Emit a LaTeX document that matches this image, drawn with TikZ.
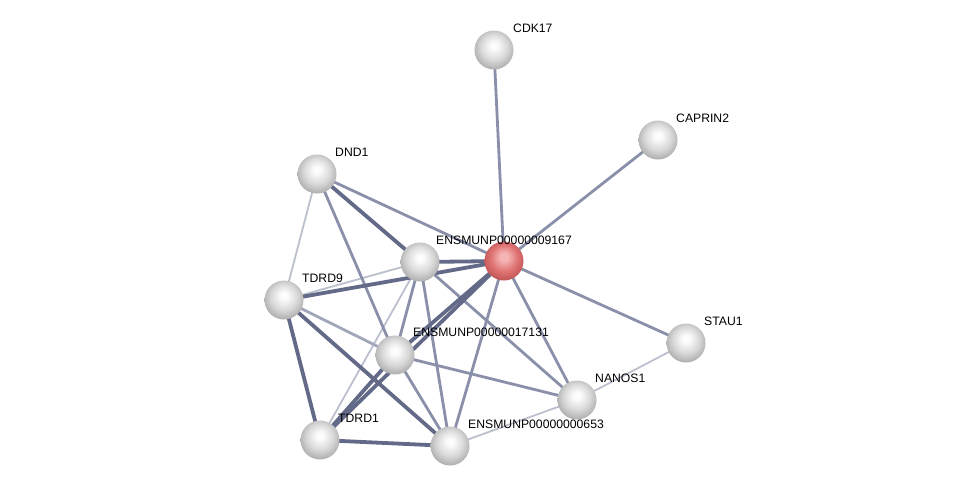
\documentclass[tikz,border=0pt]{standalone}
\usepackage{fontspec}
\setmainfont{Liberation Sans}
\definecolor{cthick}{HTML}{636A88}
\definecolor{cmed}{HTML}{8A90AA}
\definecolor{clight}{HTML}{BCC0CE}
\definecolor{gb1}{HTML}{FAFAFA}
\definecolor{gb2}{HTML}{D8D8D8}
\definecolor{gb3}{HTML}{B0B0B0}
\definecolor{gb4}{HTML}{8C8C8C}
\definecolor{rb1}{HTML}{F4B4B4}
\definecolor{rb2}{HTML}{E07474}
\definecolor{rb3}{HTML}{C45858}
\definecolor{rb4}{HTML}{9E4040}
\pgfdeclareradialshading{grayball}{\pgfpoint{0bp}{6bp}}{color(0bp)=(white); color(5bp)=(gb1); color(17bp)=(gb2); color(27bp)=(gb3); color(31bp)=(gb4); color(50bp)=(gb4)}
\pgfdeclareradialshading{redball}{\pgfpoint{0bp}{6bp}}{color(0bp)=(rb1); color(5bp)=(rb1); color(17bp)=(rb2); color(27bp)=(rb3); color(31bp)=(rb4); color(50bp)=(rb4)}
\begin{document}
\begin{tikzpicture}[x=1pt,y=-1pt,
  ballnode/.style={circle, minimum size=39pt, inner sep=0pt, shading=grayball},
  querynode/.style={ballnode, shading=redball},
  lbl/.style={font=\fontsize{12.2}{14}\selectfont, anchor=west, inner sep=0pt},
  ethick/.style={line width=3.8pt, draw=cthick},
  emed/.style={line width=2.8pt, draw=cmed},
  elight/.style={line width=1.8pt, draw=clight}]
\useasboundingbox (0,0) rectangle (975,491);
% node coordinates
\coordinate (pR) at (504,261);
\coordinate (pU) at (420,262);
\coordinate (pCDK) at (494,50);
\coordinate (pCAP) at (658,140);
\coordinate (pDND) at (317,174);
\coordinate (pT9) at (284,300);
\coordinate (pN17) at (395,355);
\coordinate (pSTAU) at (686,343);
\coordinate (pNAN) at (577,400);
\coordinate (pT1) at (320,440);
\coordinate (pN653) at (450,446);
% edges
\draw[elight] (pDND) -- (pT9);
\draw[elight] (pT9) -- (pU);
\draw[elight] (pU) -- (pT1);
\draw[elight] (pN653) -- (pNAN);
\draw[elight] (pNAN) -- (pSTAU);
\draw[emed] (pCDK) -- (pR);
\draw[emed] (pCAP) -- (pR);
\draw[emed] (pDND) -- (pR);
\draw[emed] (pDND) -- (pN17);
\draw[emed] (pU) -- (pN17);
\draw[emed] (pU) -- (pN653);
\draw[emed] (pU) -- (pNAN);
\draw[emed] (pR) -- (pN653);
\draw[emed] (pR) -- (pNAN);
\draw[emed] (pR) -- (pSTAU);
\draw[emed] (pN17) -- (pNAN);
\draw[emed] (pN17) -- (pN653);
\draw[emed, draw=cmed!80!white] (pT9) -- (pN17);
\draw[ethick] (pDND) -- (pU);
\draw[ethick] (pU) -- (pR);
\draw[ethick] (pT9) -- (pR);
\draw[ethick] (pR) -- (pN17);
\draw[ethick] (pR) -- (pT1);
\draw[ethick] (pN17) -- (pT1);
\draw[ethick] (pT9) -- (pT1);
\draw[ethick] (pT9) -- (pN653);
\draw[ethick] (pT1) -- (pN653);
% nodes
\node[querynode] (R) at (pR) {};
\node[ballnode] (U) at (pU) {};
\node[ballnode] (CDK) at (pCDK) {};
\node[ballnode] (CAP) at (pCAP) {};
\node[ballnode] (DND) at (pDND) {};
\node[ballnode] (T9) at (pT9) {};
\node[ballnode] (N17) at (pN17) {};
\node[ballnode] (STAU) at (pSTAU) {};
\node[ballnode] (NAN) at (pNAN) {};
\node[ballnode] (T1) at (pT1) {};
\node[ballnode] (N653) at (pN653) {};
% labels
\node[lbl, anchor=center] (lR) at ([yshift=21pt]R.center) {ENSMUNP00000009167};
\node[lbl] (lCDK) at ([xshift=19pt,yshift=22pt]CDK.center) {CDK17};
\node[lbl] (lCAP) at ([xshift=18pt,yshift=22pt]CAP.center) {CAPRIN2};
\node[lbl] (lDND) at ([xshift=18pt,yshift=22pt]DND.center) {DND1};
\node[lbl] (lT9) at ([xshift=18pt,yshift=22pt]T9.center) {TDRD9};
\node[lbl] (lN17) at ([xshift=18pt,yshift=23pt]N17.center) {ENSMUNP00000017131};
\node[lbl] (lSTAU) at ([xshift=18pt,yshift=22pt]STAU.center) {STAU1};
\node[lbl] (lNAN) at ([xshift=18pt,yshift=22pt]NAN.center) {NANOS1};
\node[lbl] (lT1) at ([xshift=18pt,yshift=22pt]T1.center) {TDRD1};
\node[lbl] (lN653) at ([xshift=18pt,yshift=22pt]N653.center) {ENSMUNP00000000653};
\end{tikzpicture}
\end{document}
